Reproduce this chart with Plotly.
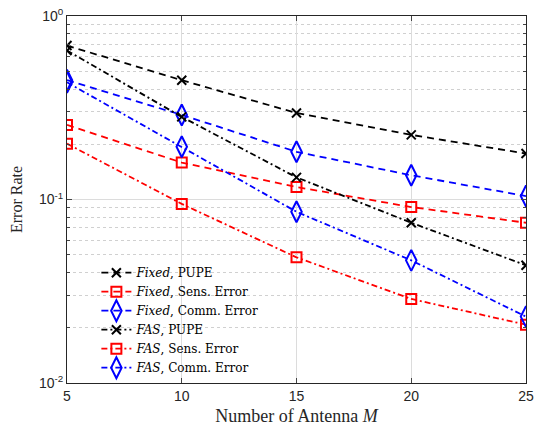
import plotly.graph_objects as go

M = [5, 10, 15, 20, 25]
fixed_pupe = [0.69, 0.447, 0.296, 0.225, 0.178]
fixed_sens = [0.255, 0.159, 0.117, 0.091, 0.0747]
fixed_comm = [0.447, 0.289, 0.182, 0.1355, 0.1044]
fas_pupe = [0.648, 0.282, 0.132, 0.0747, 0.0438]
fas_sens = [0.2015, 0.0946, 0.0484, 0.0287, 0.0208]
fas_comm = [0.435, 0.194, 0.0857, 0.0466, 0.023]

names = ["<i>Fixed</i>, PUPE", "<i>Fixed</i>, Sens. Error", "<i>Fixed</i>, Comm. Error",
         "<i>FAS</i>, PUPE", "<i>FAS</i>, Sens. Error", "<i>FAS</i>, Comm. Error"]
series = [fixed_pupe, fixed_sens, fixed_comm, fas_pupe, fas_sens, fas_comm]
colors = ["black", "red", "blue", "black", "red", "blue"]
symbols = ["x-thin-open", "square-open", "diamond-tall-open"] * 2
sizes = [9, 10, 15] * 2
dashes = ["7px,5px"] * 3 + ["6px,3px,2px,3px"] * 3

fig = go.Figure()
for nm, ys, c, s, sz, d in zip(names, series, colors, symbols, sizes, dashes):
    fig.add_trace(go.Scatter(
        x=M, y=ys, name=nm, mode="lines+markers",
        line=dict(color=c, width=1.8, dash=d),
        marker=dict(symbol=s, size=sz, color=c, line=dict(color=c, width=2)),
    ))

minor_vals = [m * 10 ** e for e in (-2, -1) for m in range(2, 10)]
axcol = "#262626"
fig.update_layout(
    width=540, height=429,
    margin=dict(l=67, r=6, t=14, b=46),
    paper_bgcolor="white", plot_bgcolor="white",
    showlegend=True,
    legend=dict(x=0.064, y=0.34, xanchor="left", yanchor="top",
                bgcolor="rgba(255,255,255,0)", borderwidth=0,
                font=dict(family="DejaVu Serif", size=12, color="black"),
                tracegroupgap=0, itemwidth=30),
    xaxis=dict(range=[5, 25], tickvals=M, ticks="inside", ticklen=5,
               showline=True, linecolor=axcol, linewidth=1, mirror="ticks",
               showgrid=True, gridcolor="#dcdcdc", gridwidth=1, zeroline=False,
               ticklabeloverflow="allow",
               tickfont=dict(family="Liberation Sans", size=14, color=axcol),
               title=dict(text="Number of Antenna <i>M</i>", standoff=6,
                          font=dict(family="Liberation Serif", size=18, color=axcol))),
    yaxis=dict(type="log", range=[-2, 0], tickvals=[0.01, 0.1, 1],
               ticktext=["10<sup>-2</sup>", "10<sup>-1</sup>", "10<sup>0</sup>"],
               ticks="inside", ticklen=5,
               showline=True, linecolor=axcol, linewidth=1, mirror="ticks",
               showgrid=True, gridcolor="#dcdcdc", gridwidth=1, zeroline=False,
               tickfont=dict(family="Liberation Sans", size=14, color=axcol),
               minor=dict(tickvals=minor_vals, ticks="inside", ticklen=3,
                          showgrid=True, gridcolor="#d0d0d0", griddash="dot", gridwidth=1),
               title=dict(text="Error Rate", standoff=12,
                          font=dict(family="Liberation Serif", size=16, color=axcol))),
)
fig.write_html("out.html")
